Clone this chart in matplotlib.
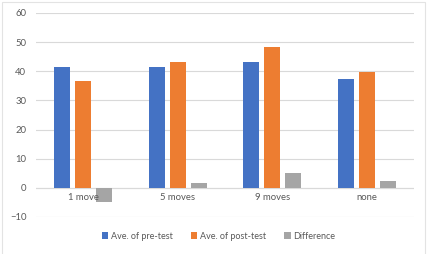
import matplotlib.pyplot as plt
import numpy as np

categories = ['1 move', '5 moves', '9 moves', 'none']
pre_test = [41.5, 41.5, 43.2, 37.4]
post_test = [36.5, 43.3, 48.2, 39.8]
difference = [-5.0, 1.8, 5.0, 2.4]
series_names = ['Ave. of pre-test', 'Ave. of post-test', 'Difference']
colors = ['#4472C4', '#ED7D31', '#A5A5A5']

plt.rcParams['font.family'] = ['Lato', 'DejaVu Sans']
text_color = '#595959'

fig = plt.figure(figsize=(4.33, 2.54), dpi=100)
# chart border like the spreadsheet frame
fig.patches.append(plt.Rectangle((0.004, -0.02), 0.978, 1.014, transform=fig.transFigure,
                                 fill=False, edgecolor='#e3e3e3', linewidth=0.8))
ax = fig.add_axes([36 / 433, 1 - 217 / 254, 378 / 433, 204 / 254])

x = np.arange(len(categories))
width = 0.17
step = 0.222
for i, (vals, name, c) in enumerate(zip([pre_test, post_test, difference], series_names, colors)):
    ax.bar(x + (i - 1) * step, vals, width, color=c, label=name, zorder=3)

ax.set_xlim(-0.5, len(categories) - 0.5)
ax.set_ylim(-10, 60)
ax.set_yticks(range(-10, 61, 10))
ax.grid(axis='y', color='#d9d9d9', linewidth=0.8, zorder=0)
ax.axhline(0, color='#d9d9d9', linewidth=0.8, zorder=1)
for s in ax.spines.values():
    s.set_visible(False)
ax.tick_params(axis='y', length=0, labelsize=6.8, labelcolor=text_color, pad=7)
ax.set_xticks([])

# category labels sit under the zero line, like Excel
for xi, cat in zip(x, categories):
    ax.annotate(cat, (xi, 0), xytext=(0, -4), textcoords='offset points',
                ha='center', va='top', fontsize=6.8, color=text_color, zorder=4)

leg = fig.legend(loc='lower center', bbox_to_anchor=(0.505, 0.02), ncol=3, frameon=False,
                 fontsize=6.5, handlelength=0.7, handleheight=0.7, handletextpad=0.3,
                 columnspacing=2.0)
for t in leg.get_texts():
    t.set_color(text_color)

fig.savefig('out.png', dpi=100)
